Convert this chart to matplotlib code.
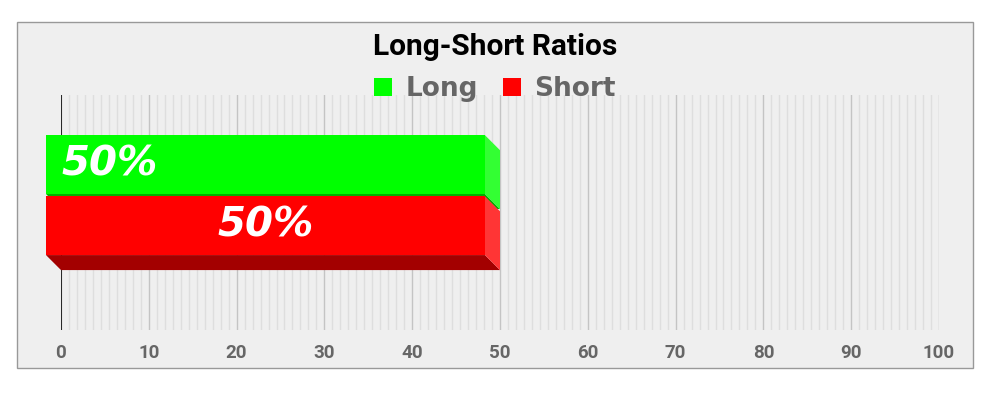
import numpy as np
import matplotlib
matplotlib.use('Agg')
import matplotlib.pyplot as plt
from matplotlib.patches import Rectangle, Polygon

# chart data
series = ['Long', 'Short']
values = [50, 50]
labels = ['50%', '50%']
xticks = list(range(0, 101, 10))

# styling
front_colors = ['#00ff00', '#ff0000']
side_colors = ['#33ff33', '#ff3535']
bottom_colors = ['#00b000', '#a30000']
positions = [0.14, -0.12]
bar_h = 0.25
depth_px = 15

W, H, DPI = 993, 393, 100
fig = plt.figure(figsize=(W / DPI, H / DPI), dpi=DPI, facecolor='white')
fig.add_artist(Rectangle((17 / W, 1 - 368 / H), (973 - 17) / W, (368 - 22) / H,
                         transform=fig.transFigure, facecolor='#efefef',
                         edgecolor='#999999', lw=1, zorder=-10))

ax = fig.add_axes([61 / W, 1 - 330 / H, (939 - 61) / W, (330 - 95) / H])
ax.set_facecolor('#efefef')
ax.set_xlim(0, 100)
ax.set_ylim(-0.5, 0.5)
for s in ax.spines.values():
    s.set_visible(False)

# grid: major every 10, minor lines
ax.set_xticks(xticks, labels=[str(t) for t in xticks], fontfamily='Roboto',
              fontweight='bold', fontsize=13.5, color='#666666')
ax.set_xticks(np.linspace(0, 100, 111), minor=True)
ax.set_yticks([])
ax.set_axisbelow(True)
ax.grid(which='major', axis='x', color='#c4c4c4', lw=1)
ax.grid(which='minor', axis='x', color='#dedede', lw=1)
ax.axvline(0, color='#1a1a1a', lw=1.3, zorder=1.5)
ax.tick_params(axis='x', which='both', length=0, pad=10)

# depth offset in data units
ax_w_px = (939 - 61)
ax_h_px = (330 - 95)
dx = depth_px / ax_w_px * 100
dy = depth_px / ax_h_px * 1.0

handles = []
for i, name in enumerate(series):
    v = values[i]
    y0 = positions[i] - bar_h / 2
    y1 = positions[i] + bar_h / 2
    bottom = Polygon([(-dx, y0 + dy), (v - dx, y0 + dy), (v, y0), (0, y0)],
                     closed=True, facecolor=bottom_colors[i], edgecolor='none',
                     clip_on=False, zorder=2)
    side = Polygon([(v - dx, y1 + dy), (v, y1), (v, y0), (v - dx, y0 + dy)],
                   closed=True, facecolor=side_colors[i], edgecolor='none',
                   clip_on=False, zorder=2)
    ax.add_patch(bottom)
    ax.add_patch(side)
    bars = ax.barh(positions[i] + dy, v, height=bar_h, left=-dx,
                   color=front_colors[i], zorder=2, label=name)
    for b in bars:
        b.set_clip_on(False)
    handles.append(bars)

# value labels
label_font = dict(color='white', fontsize=29, fontweight='bold', style='italic',
                  fontfamily='DejaVu Sans', va='baseline', zorder=3)
ax.text(0, positions[0] + dy - 0.048, labels[0], ha='left', **label_font)
ax.text(values[1] / 2 - dx, positions[1] + dy - 0.048, labels[1], ha='center',
        **label_font)

fig.text(495 / W, 1 - 55 / H, 'Long-Short Ratios', ha='center', va='baseline',
         fontfamily='Roboto', fontweight='bold', fontsize=21.5, color='black')

leg = ax.legend(handles=handles, labels=series, loc='center', ncol=2,
                bbox_to_anchor=(495 / W, 1 - 89 / H), bbox_transform=fig.transFigure,
                frameon=False, prop={'family': 'DejaVu Sans', 'weight': 'bold', 'size': 19},
                handlelength=0.68, handleheight=0.68, handletextpad=0.5,
                columnspacing=0.95, borderpad=0, borderaxespad=0)
for t in leg.get_texts():
    t.set_color('#666666')

fig.savefig('out.png', dpi=DPI, facecolor='white')
